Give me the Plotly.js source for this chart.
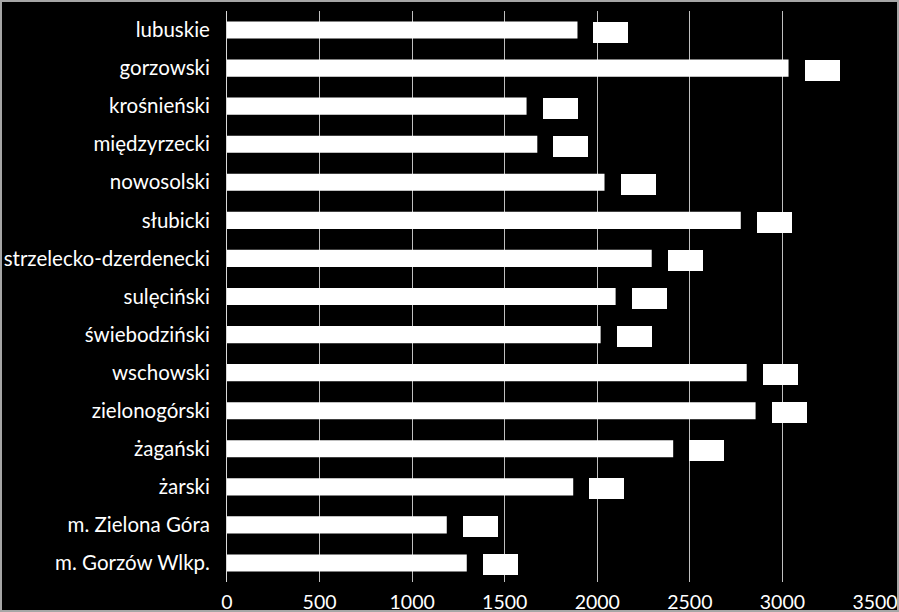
<!DOCTYPE html>
<html>
<head>
<meta charset="utf-8">
<script src="https://cdn.plot.ly/plotly-3.0.1.min.js"></script>
<style>
  html, body { margin: 0; padding: 0; background: #000; }
  #wrap { position: relative; width: 899px; height: 612px; }
  #chart { width: 899px; height: 612px; }
  #frame { position: absolute; left: 0; top: 0; width: 899px; height: 612px; box-sizing: border-box; border: 2px solid #a6a6a6; pointer-events: none; }
</style>
</head>
<body>
<div id="wrap"><div id="chart"></div><div id="frame"></div></div>
<script>
const categories = ["lubuskie", "gorzowski", "krośnieński", "międzyrzecki", "nowosolski", "słubicki",
  "strzelecko-dzerdenecki", "sulęciński", "świebodziński", "wschowski", "zielonogórski",
  "żagański", "żarski", "m. Zielona Góra", "m. Gorzów Wlkp."];
const values = [1893, 3033, 1618, 1676, 2039, 2775, 2294, 2099, 2018, 2807, 2855, 2410, 1870, 1187, 1295];
const xTicks = [0, 500, 1000, 1500, 2000, 2500, 3000, 3500];

const trace = {
  type: "bar",
  orientation: "h",
  y: categories,
  x: values,
  width: 0.45,
  marker: { color: "#ffffff", line: { width: 0 } },
  hoverinfo: "none"
};

const annotations = categories.map((c, i) => ({
  x: values[i], y: c, xref: "x", yref: "y",
  text: String(values[i]),
  showarrow: false,
  xanchor: "left", yanchor: "middle",
  xshift: 16, yshift: -2,
  width: 35, height: 21,
  borderpad: 0, borderwidth: 0,
  bgcolor: "#ffffff",
  font: { color: "#ffffff", size: 12, family: "Lato" }
}));

const layout = {
  width: 899, height: 612,
  paper_bgcolor: "#000000",
  plot_bgcolor: "#000000",
  margin: { l: 227, r: 24, t: 11, b: 30 },
  showlegend: false,
  font: { family: "Lato", color: "#ffffff", size: 20 },
  xaxis: {
    range: [0, 3500],
    tickvals: xTicks,
    ticktext: xTicks.map(String),
    showgrid: true,
    gridcolor: "#bfbfbf",
    gridwidth: 1,
    zeroline: false,
    showline: false,
    ticks: "",
    ticklabelstandoff: 6,
    tickfont: { family: "Lato", size: 19.5, color: "#ffffff" },
    fixedrange: true
  },
  yaxis: {
    type: "category",
    autorange: "reversed",
    showgrid: false,
    zeroline: false,
    showline: true,
    linecolor: "#d9d9d9",
    linewidth: 1,
    ticks: "",
    ticklabelstandoff: 12,
    tickfont: { family: "Lato", size: 20.5, color: "#ffffff" },
    fixedrange: true
  },
  bargap: 0.55,
  annotations: annotations
};

Plotly.newPlot("chart", [trace], layout, { displayModeBar: false, staticPlot: true });
</script>
</body>
</html>
